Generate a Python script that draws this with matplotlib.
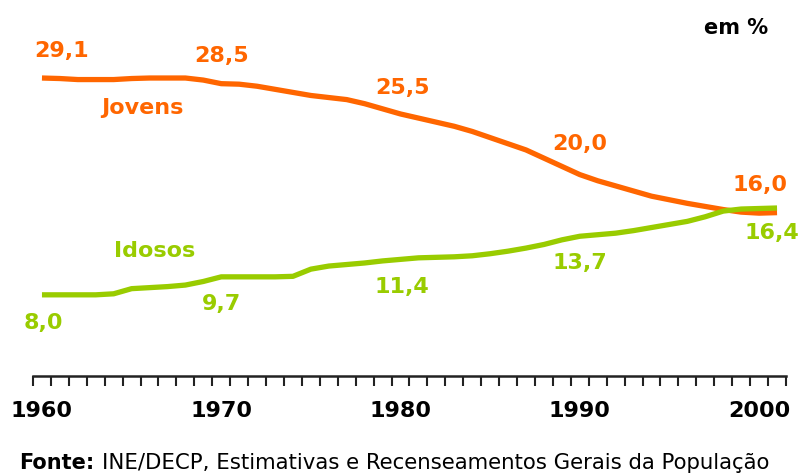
import matplotlib
matplotlib.use("Agg")
import matplotlib.pyplot as plt
import numpy as np

years = list(range(1960, 2002))
jovens = [29.1, 29.05, 28.95, 28.95, 28.95, 29.05, 29.1, 29.1, 29.1, 28.9,
          28.55, 28.5, 28.3, 28.0, 27.7, 27.4, 27.2, 27.0, 26.6, 26.1,
          25.6, 25.2, 24.8, 24.4, 23.9, 23.3, 22.7, 22.1, 21.3, 20.5,
          19.7, 19.1, 18.6, 18.1, 17.6, 17.25, 16.9, 16.6, 16.3, 16.05,
          15.95, 16.0]
idosos = [8.0, 8.0, 8.0, 8.0, 8.1, 8.6, 8.7, 8.8, 8.95, 9.3,
          9.75, 9.75, 9.75, 9.75, 9.8, 10.5, 10.8, 10.95, 11.1, 11.3,
          11.45, 11.6, 11.65, 11.7, 11.8, 12.0, 12.25, 12.55, 12.9, 13.35,
          13.7, 13.85, 14.0, 14.25, 14.55, 14.85, 15.15, 15.6, 16.15, 16.35,
          16.4, 16.45]
tick_years = [1960, 1970, 1980, 1990, 2000]
jovens_labels = [(1961.1, 31.7, "29,1"), (1970.0, 31.2, "28,5"),
                 (1980.1, 28.1, "25,5"), (1990.0, 22.7, "20,0"),
                 (2000.05, 18.7, "16,0")]
idosos_labels = [(1960.06, 5.26, "8,0"), (1970.0, 7.1, "9,7"),
                 (1980.1, 8.76, "11,4"), (1990.0, 11.1, "13,7"),
                 (2000.7, 14.0, "16,4")]

ORANGE = "#FF6600"
GREEN = "#99CC00"
W, H = 799, 473

fig = plt.figure(figsize=(W / 100, H / 100), dpi=100)
ax = fig.add_axes([33 / W, (H - 376) / H, (786 - 33) / W, (376 - 40) / H])
ax.set_xlim(1959.5, 2001.5)
ax.set_ylim(0.1, 32.8)

ax.plot(years, jovens, color=ORANGE, lw=3.8, solid_capstyle="butt", solid_joinstyle="round")
ax.plot(years, idosos, color=GREEN, lw=3.8, solid_capstyle="butt", solid_joinstyle="round")

fs = 16
for x, y, t in jovens_labels:
    ax.text(x, y, t, color=ORANGE, fontsize=fs, fontweight="bold", ha="center", va="center")
for x, y, t in idosos_labels:
    ax.text(x, y, t, color=GREEN, fontsize=fs, fontweight="bold", ha="center", va="center")
ax.text(1965.6, 26.2, "Jovens", color=ORANGE, fontsize=fs, fontweight="bold", ha="center", va="center")
ax.text(1966.3, 12.26, "Idosos", color=GREEN, fontsize=fs, fontweight="bold", ha="center", va="center")
ax.text(1998.7, 33.95, "em %", color="black", fontsize=fs - 1, fontweight="bold",
        ha="center", va="center", clip_on=False)

for s in ["top", "left", "right"]:
    ax.spines[s].set_visible(False)
ax.spines["bottom"].set_linewidth(1.8)
ax.spines["bottom"].set_color("#222222")
ax.set_yticks([])
ax.set_xticks(tick_years)
ax.set_xticklabels([str(y) for y in tick_years], fontsize=fs, fontweight="bold")
ax.tick_params(axis="x", which="major", length=0, pad=18)
ax.set_xticks(np.arange(1959.5, 2001.6, 1.0), minor=True)
ax.tick_params(axis="x", which="minor", length=7, width=1.5, color="#222222")

fig.text(19 / W, 1 - 463 / H, "Fonte:", fontsize=15, fontweight="bold", ha="left", va="center")
fig.text(102 / W, 1 - 463 / H, "INE/DECP, Estimativas e Recenseamentos Gerais da População",
         fontsize=15.3, ha="left", va="center")

fig.savefig("out.png", dpi=100)
